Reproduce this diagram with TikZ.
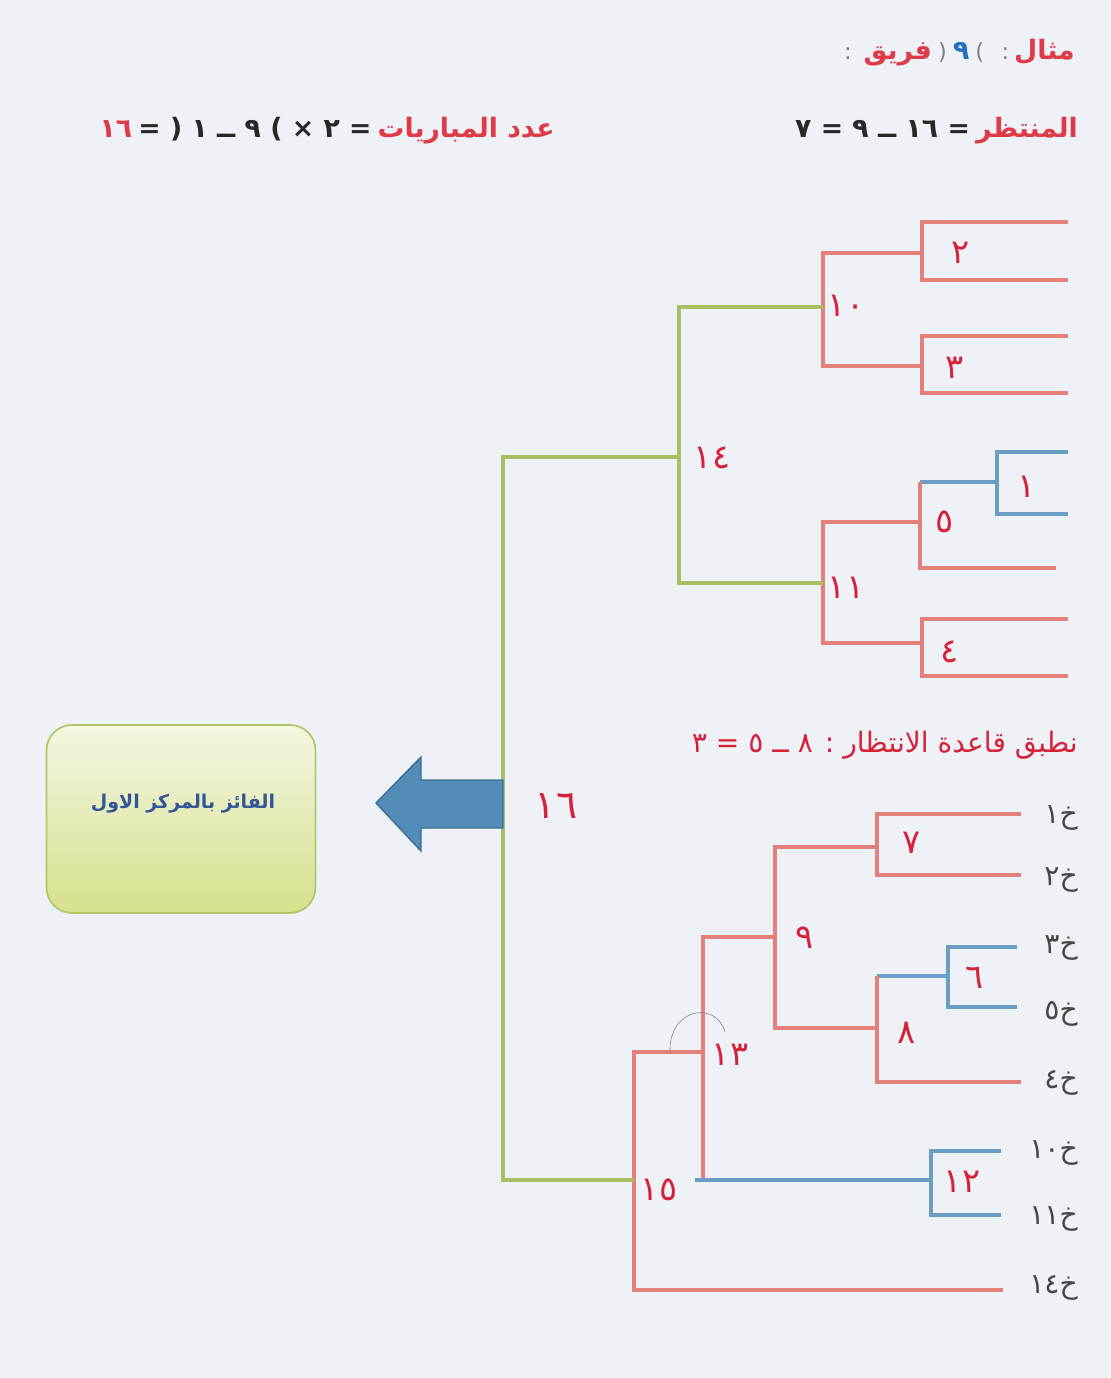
\documentclass[tikz,border=0pt]{standalone}
\usepackage{fontspec}
\usepackage{xcolor}
\usepackage{tikz}
\usetikzlibrary{positioning}
\TeXXeTstate=1
\newfontfamily\arabicfont[Script=Arabic]{DejaVu Sans}
\definecolor{PaperBg}{RGB}{238,241,246}
\definecolor{LinePink}{RGB}{228,128,124}
\definecolor{LineGreen}{RGB}{168,192,98}
\definecolor{LineBlue}{RGB}{108,158,196}
\definecolor{LabelRed}{RGB}{214,34,56}
\definecolor{HeadRed}{RGB}{222,58,72}
\definecolor{HeadDark}{RGB}{40,40,40}
\definecolor{NumBlue}{RGB}{40,110,190}
\definecolor{ArrowBlue}{RGB}{84,140,184}
\definecolor{ArrowEdge}{RGB}{62,110,150}
\definecolor{BoxTop}{RGB}{244,246,226}
\definecolor{BoxBottom}{RGB}{214,224,140}
\definecolor{BoxEdge}{RGB}{178,198,104}
\definecolor{BoxText}{RGB}{52,86,150}
\definecolor{TeamGray}{RGB}{70,70,70}

\begin{document}
\begin{tikzpicture}[x=0.025cm, y=-0.025cm,
		pinkline/.style={line width=3.5pt, draw=LinePink},
		greenline/.style={line width=3.5pt, draw=LineGreen},
		blueline/.style={line width=3.5pt, draw=LineBlue},
		matchlbl/.style={text=LabelRed, font=\arabicfont\fontsize{24}{24}\selectfont, inner sep=0pt},
		teamlbl/.style={text=TeamGray, font=\arabicfont\fontsize{20}{20}\selectfont, anchor=east, inner sep=0pt},
		headtxt/.style={font=\arabicfont\bfseries\fontsize{19}{23}\selectfont, inner sep=0pt},
		headsep/.style={font=\arabicfont\fontsize{16}{20}\selectfont, inner sep=0pt, text=gray}]
	\useasboundingbox (0,0) rectangle (1110,1378);
	\fill[PaperBg] (0,0) rectangle (1110,1378);
	% header
	\node[headtxt, text=HeadRed, anchor=base east] (exWord) at (1075,60) {مثال};
	\node[headsep, left=3pt of exWord.base west, anchor=base east] (exColon) {:};
	\node[headsep, left=12pt of exColon.base west, anchor=base east] (exClose) {)};
	\node[headtxt, text=NumBlue, left=4pt of exClose.base west, anchor=base east] (exNine) {٩};
	\node[headsep, left=4pt of exNine.base west, anchor=base east] (exOpen) {(};
	\node[headtxt, text=HeadRed, left=4pt of exOpen.base west, anchor=base east] (exTeam) {فريق};
	\node[headsep, left=8pt of exTeam.base west, anchor=base east] (exEnd) {:};
	\node[headtxt, text=HeadRed, anchor=base east] (waitWord) at (1078,138) {المنتظر};
	\node[headtxt, text=HeadDark, left=4pt of waitWord.base west, anchor=base east] (waitEq) {\beginR = ١٦ ــ ٩ = ٧\endR};
	\node[headtxt, text=HeadRed, anchor=base east] (gamesWord) at (555,138) {\beginR عدد المباريات\endR};
	\node[headtxt, text=HeadDark, left=4pt of gamesWord.base west, anchor=base east] (gamesEq) {\beginR = ٢ × ) ٩ ــ ١ ( =\endR};
	\node[headtxt, text=HeadRed, left=4pt of gamesEq.base west, anchor=base east] (gamesRes) {١٦};
	% upper bracket
	\coordinate (t2) at (1068,222); \coordinate (b2) at (1068,280); \coordinate (v2) at (922,253);
	\coordinate (t3) at (1068,336); \coordinate (b3) at (1068,393); \coordinate (v3) at (922,366);
	\coordinate (t1) at (1068,452); \coordinate (b1) at (1068,514); \coordinate (v1) at (997,482);
	\coordinate (t4) at (1068,619); \coordinate (b4) at (1068,676); \coordinate (v4) at (922,643);
	\coordinate (top5) at (920,482); \coordinate (v5) at (920,522); \coordinate (b5) at (1056,568);
	\coordinate (v10) at (823,307); \coordinate (v11) at (823,583);
	\coordinate (v14) at (679,457);
	\draw[pinkline] (t2) -| (v2) |- (b2);
	\draw[pinkline] (t3) -| (v3) |- (b3);
	\draw[blueline] (t1) -| (v1) |- (b1);
	\draw[pinkline] (t4) -| (v4) |- (b4);
	\draw[blueline] (v1) -- (top5);
	\draw[pinkline] (top5) |- (b5);
	\draw[pinkline] (v2) -| (v10) |- (v3);
	\draw[pinkline] (v5) -| (v11) |- (v4);
	\draw[greenline] (v10) -| (v14) |- (v11);
	% lower bracket
	\coordinate (t7) at (1021,814); \coordinate (b7) at (1021,875); \coordinate (v7) at (877,847);
	\coordinate (t6) at (1017,947); \coordinate (b6) at (1017,1007); \coordinate (v6) at (948,976);
	\coordinate (top8) at (877,976); \coordinate (v8) at (877,1028); \coordinate (b8) at (1021,1082);
	\coordinate (v9) at (775,937);
	\coordinate (t12) at (1001,1151); \coordinate (b12) at (1001,1215); \coordinate (v12) at (931,1180);
	\coordinate (v13) at (703,1052); \coordinate (low13) at (703,1180); \coordinate (tail13) at (695,1180);
	\coordinate (v15) at (634,1180); \coordinate (b14) at (1003,1290);
	\coordinate (v16) at (503,805);
	\draw[pinkline] (t7) -| (v7) |- (b7);
	\draw[blueline] (t6) -| (v6) |- (b6);
	\draw[blueline] (v6) -- (top8);
	\draw[pinkline] (top8) |- (b8);
	\draw[pinkline] (v7) -| (v9) |- (v8);
	\draw[pinkline] (v9) -| (low13);
	\draw[blueline] (t12) -| (v12) |- (b12);
	\draw[blueline] (tail13) -- (v12);
	\draw[pinkline] (v13) -| (v15) |- (b14);
	\draw[greenline] (v14) -| (v16) |- (v15);
	\draw[gray, thin] (670,1053) .. controls (668,1008) and (716,1000) .. (725,1032);
	% match numbers
	\node[matchlbl] (n2) at (961,253) {٢};
	\node[matchlbl] (n3) at (955,368) {٣};
	\node[matchlbl] (n10) at (846,306) {١٠};
	\node[matchlbl] (n14) at (712,458) {١٤};
	\node[matchlbl] (n1) at (1027,487) {١};
	\node[matchlbl] (n5) at (945,522) {٥};
	\node[matchlbl] (n11) at (846,588) {١١};
	\node[matchlbl] (n4) at (950,652) {٤};
	\node[matchlbl] (n7) at (912,843) {٧};
	\node[matchlbl] (n9) at (805,938) {٩};
	\node[matchlbl] (n6) at (975,978) {٦};
	\node[matchlbl] (n8) at (907,1033) {٨};
	\node[matchlbl] (n13) at (730,1055) {١٣};
	\node[matchlbl] (n12) at (962,1182) {١٢};
	\node[matchlbl] (n15) at (659,1190) {١٥};
	\node[matchlbl, font=\arabicfont\fontsize{28}{28}\selectfont] (n16) at (556,806) {١٦};
	% teams
	\node[text=LabelRed, font=\arabicfont\fontsize{20}{24}\selectfont, anchor=base east, inner sep=0pt] (rule) at (1078,752) {\beginR نطبق قاعدة الانتظار : ٨ ــ ٥ = ٣\endR};
	\node[teamlbl] (k1) at (1078,818) {\beginR خ١\endR};
	\node[teamlbl] (k2) at (1078,880) {\beginR خ٢\endR};
	\node[teamlbl] (k3) at (1078,948) {\beginR خ٣\endR};
	\node[teamlbl] (k5) at (1078,1014) {\beginR خ٥\endR};
	\node[teamlbl] (k4) at (1078,1083) {\beginR خ٤\endR};
	\node[teamlbl] (k10) at (1078,1153) {\beginR خ١٠\endR};
	\node[teamlbl] (k11) at (1078,1219) {\beginR خ١١\endR};
	\node[teamlbl] (k14) at (1078,1288) {\beginR خ١٤\endR};
	% winner
	\node[draw=BoxEdge, line width=1.2pt, rounded corners=18pt, top color=BoxTop, bottom color=BoxBottom,
		minimum width=6.72cm, minimum height=4.7cm] (winner) at (181,819) {};
	\node[text=BoxText, font=\arabicfont\bfseries\fontsize{13.5}{16}\selectfont, inner sep=0pt] (winText) at (183,804) {\beginR الفائز بالمركز الاول\endR};
	\draw[ArrowEdge, fill=ArrowBlue, line width=1pt] (v16) ++(0,-25) -- (421,780) -- (421,757) -- (376,803) -- (421,851) -- (421,828) -- (503,828) -- cycle;
\end{tikzpicture}
\end{document}
